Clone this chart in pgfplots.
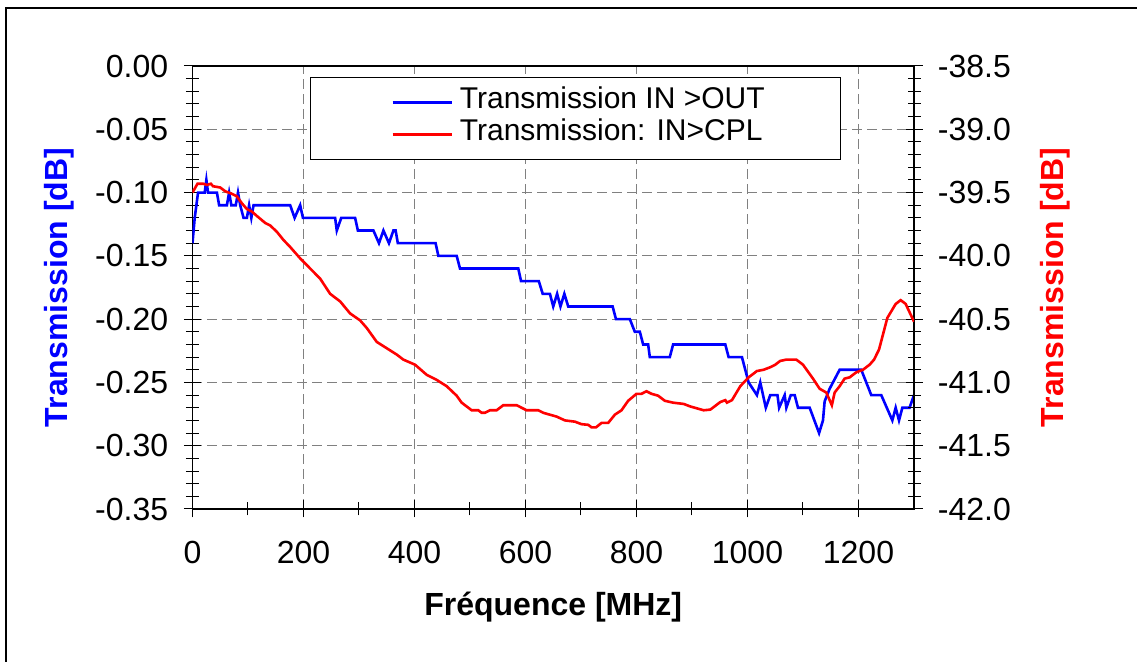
\documentclass[border=0pt]{standalone}
\usepackage{fontspec}
\setmainfont{Liberation Sans}
\usepackage{pgfplots}
\pgfplotsset{compat=1.18}

\pgfplotsset{
  common/.style={
    at={(0,0)}, anchor=south west,
    width=360.75pt, height=221.5pt, scale only axis,
    xmin=0, xmax=1300,
    tick align=center,
    major tick length=8.5pt, minor tick length=6.5pt,
    every tick/.style={black, line width=0.5pt},
    axis line style={line width=0.8pt},
    tick label style={font=\fontsize{16}{19}\selectfont},
  },
}

\begin{document}
\begin{tikzpicture}
  \useasboundingbox (-96.25pt,-76.5pt) rectangle (472.25pt,254.5pt);
  \draw[line width=0.6pt] (-93.25pt,-90pt) rectangle (490pt,250.5pt);

  % left axis: IN > OUT
  \begin{axis}[
    common,
    ymin=-0.35, ymax=0,
    xtick={0,200,400,600,800,1000,1200},
    xticklabels={0,200,400,600,800,1000,1200},
    minor x tick num=1,
    ytick={-0.35,-0.3,-0.25,-0.2,-0.15,-0.1,-0.05,0},
    yticklabels={-0.35,-0.30,-0.25,-0.20,-0.15,-0.10,-0.05,0.00},
    minor y tick num=4,
    xtick pos=bottom, ytick pos=left,
    grid=major,
    major grid style={gray, line width=0.5pt, dash pattern=on 5pt off 2.5pt},
    xticklabel style={inner sep=0pt, anchor=north, yshift=-11.5pt},
    yticklabel style={inner sep=0pt, anchor=east, xshift=-7.75pt},
    xlabel={Fréquence [MHz]},
    xlabel style={font=\bfseries\fontsize{16}{19}\selectfont,
      at={(axis description cs:0.5,-0.222)}, anchor=center},
    ylabel={Transmission [dB]},
    ylabel style={font=\bfseries\fontsize{16}{19}\selectfont, text=blue,
      at={(axis description cs:-0.1850,0.5)}, anchor=center},
  ]
    \addplot[blue, line width=1.3pt] coordinates {
      (0,-0.14) (2,-0.13) (4,-0.12) (7,-0.11) (10,-0.10) (22,-0.10)
      (25,-0.09) (28,-0.10) (44,-0.10) (48,-0.11) (62,-0.11) (66,-0.10)
      (70,-0.11) (78,-0.11) (82,-0.10) (86,-0.11) (92,-0.12) (98,-0.12)
      (102,-0.11) (106,-0.12) (110,-0.11) (176,-0.11) (184,-0.12) (194,-0.11)
      (199,-0.12) (257,-0.12) (260,-0.13) (268,-0.12) (293,-0.12) (298,-0.13)
      (326,-0.13) (336,-0.14) (344,-0.13) (354,-0.14) (362,-0.13) (366,-0.13)
      (370,-0.14) (438,-0.14) (443,-0.15) (476,-0.15) (482,-0.16) (587,-0.16)
      (592,-0.17) (624,-0.17) (631,-0.18) (644,-0.18) (650,-0.19) (657,-0.18)
      (663,-0.19) (670,-0.18) (677,-0.19) (757,-0.19) (763,-0.20) (788,-0.20)
      (797,-0.21) (806,-0.21) (812,-0.22) (821,-0.22) (824,-0.23) (860,-0.23)
      (866,-0.22) (960,-0.22) (966,-0.23) (990,-0.23) (1002,-0.25) (1017,-0.26)
      (1023,-0.25) (1033,-0.27) (1041,-0.26) (1054,-0.26) (1057,-0.27) (1067,-0.26)
      (1070,-0.27) (1078,-0.26) (1085,-0.26) (1091,-0.27) (1112,-0.27) (1129,-0.29)
      (1136,-0.28) (1139,-0.265) (1148,-0.255) (1166,-0.24) (1205,-0.24) (1223,-0.26)
      (1241,-0.26) (1261,-0.28) (1267,-0.27) (1273,-0.28) (1279,-0.27) (1292,-0.27)
      (1300,-0.26)
    };
  \end{axis}

  % right axis: IN > CPL
  \begin{axis}[
    common,
    hide x axis,
    axis y line*=right,
    ymin=-42, ymax=-38.5,
    ytick={-42,-41.5,-41,-40.5,-40,-39.5,-39,-38.5},
    yticklabels={-42.0,-41.5,-41.0,-40.5,-40.0,-39.5,-39.0,-38.5},
    minor y tick num=4,
    yticklabel style={inner sep=0pt, anchor=west, xshift=7.5pt},
    ylabel={Transmission [dB]},
    ylabel style={font=\bfseries\fontsize{16}{19}\selectfont, text=red,
      at={(axis description cs:1.1954,0.5)}, anchor=center, rotate=0},
    legend cell align=left,
    legend image code/.code={
      \path[draw=none, fill=none] (-41pt,0pt) -- (0pt,0pt);
      \draw[#1, line width=1.3pt] (0pt,0pt) -- (29.5pt,0pt);
    },
    legend style={at={(axis description cs:0.163,0.975)}, anchor=north west,
      draw=black, fill=white, line width=0.5pt,
      inner xsep=0pt, inner ysep=4.5pt, column sep=3.5pt, row sep=0pt,
      font=\fontsize{15}{18}\selectfont,
      nodes={inner sep=0pt, text height=11pt, text depth=5pt}},
  ]
    \addlegendimage{blue}
    \addlegendentry{\makebox[190.5pt][l]{Transmission IN >OUT}}
    \addplot[red, line width=1.3pt] coordinates {
      (0,-39.50) (9,-39.43) (19,-39.43) (26,-39.44) (33,-39.43) (37,-39.45)
      (50,-39.46) (59,-39.49) (71,-39.51) (80,-39.53) (89,-39.585) (98,-39.63)
      (107,-39.65) (116,-39.685) (131,-39.74) (140,-39.76) (152,-39.81) (164,-39.875)
      (176,-39.93) (194,-40.02) (212,-40.10) (230,-40.18) (248,-40.30) (266,-40.36)
      (284,-40.455) (302,-40.51) (314,-40.57) (332,-40.68) (350,-40.73) (368,-40.78)
      (380,-40.82) (401,-40.86) (422,-40.94) (440,-40.98) (458,-41.03) (476,-41.105)
      (485,-41.16) (503,-41.22) (515,-41.22) (521,-41.24) (527,-41.24) (536,-41.22)
      (548,-41.22) (560,-41.18) (584,-41.18) (593,-41.20) (602,-41.22) (623,-41.22)
      (632,-41.24) (644,-41.255) (656,-41.27) (671,-41.30) (689,-41.31) (701,-41.33)
      (713,-41.335) (719,-41.355) (727,-41.355) (737,-41.32) (749,-41.32) (761,-41.255)
      (773,-41.22) (785,-41.145) (800,-41.09) (809,-41.09) (818,-41.07) (827,-41.09)
      (839,-41.105) (851,-41.145) (866,-41.16) (885,-41.17) (897,-41.19) (921,-41.22)
      (933,-41.215) (951,-41.155) (960,-41.14) (963,-41.16) (972,-41.14) (987,-41.03)
      (1002,-40.96) (1017,-40.91) (1029,-40.90) (1041,-40.88) (1050,-40.86) (1059,-40.83)
      (1070,-40.82) (1088,-40.82) (1100,-40.86) (1118,-40.97) (1130,-41.05) (1142,-41.08)
      (1152,-41.18) (1157,-41.08) (1166,-41.03) (1175,-40.97) (1184,-40.96) (1196,-40.92)
      (1208,-40.90) (1220,-40.86) (1228,-40.82) (1237,-40.74) (1252,-40.49) (1267,-40.38)
      (1276,-40.35) (1285,-40.38) (1300,-40.52)
    };
    \addlegendentry{\makebox[190.5pt][l]{Transmission: IN>CPL}}
  \end{axis}
\end{tikzpicture}
\end{document}
